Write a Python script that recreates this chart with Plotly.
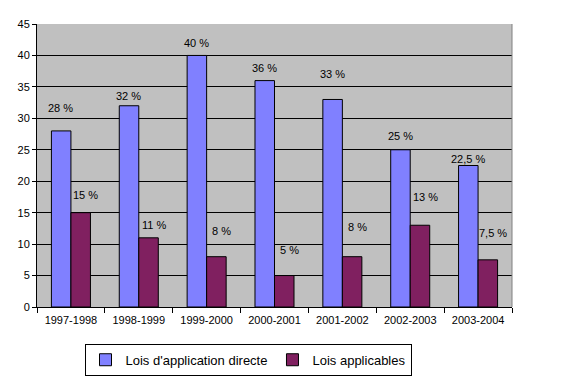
import plotly.graph_objects as go

categories = ["1997-1998", "1998-1999", "1999-2000", "2000-2001", "2001-2002", "2002-2003", "2003-2004"]
directe = [28, 32, 40, 36, 33, 25, 22.5]
applicables = [15, 11, 8, 5, 8, 13, 7.5]
directe_labels = ["28 %", "32 %", "40 %", "36 %", "33 %", "25 %", "22,5 %"]
applicables_labels = ["15 %", "11 %", "8 %", "5 %", "8 %", "13 %", "7,5 %"]
# label heights (data units) as placed in the original chart
directe_label_y = [31.6, 33.6, 42.0, 38.0, 37.0, 27.2, 23.5]
applicables_label_y = [17.8, 13.0, 12.1, 9.1, 12.8, 17.5, 11.7]

FONT = "Liberation Sans, Arial, sans-serif"

fig = go.Figure()
fig.add_trace(go.Bar(
    x=categories, y=directe, name="Lois d'application directe",
    marker=dict(color="#8080FF", line=dict(color="black", width=1)),
))
fig.add_trace(go.Bar(
    x=categories, y=applicables, name="Lois applicables",
    marker=dict(color="#802060", line=dict(color="black", width=1)),
))

annotations = []
for c, t, y in zip(categories, directe_labels, directe_label_y):
    annotations.append(dict(x=c, y=y, text=t, showarrow=False, xshift=-10,
                            font=dict(family=FONT, size=11, color="black")))
for c, t, y in zip(categories, applicables_labels, applicables_label_y):
    annotations.append(dict(x=c, y=y, text=t, showarrow=False, xshift=15,
                            font=dict(family=FONT, size=11, color="black")))

# page body has an 8px default margin, so the figure is drawn 8px smaller
fig.update_layout(
    width=556, height=368,
    margin=dict(l=29, r=52, t=16, b=69, autoexpand=False),
    paper_bgcolor="white", plot_bgcolor="#C0C0C0",
    barmode="group", bargap=0.425, bargroupgap=0,
    font=dict(family=FONT, size=11, color="black"),
    showlegend=True,
    legend=dict(orientation="h", x=0.1, xanchor="left", y=-0.13, yanchor="top",
                bordercolor="black", borderwidth=1, font=dict(size=13, family=FONT),
                itemwidth=30, tracegroupgap=0),
    annotations=annotations,
    shapes=[dict(type="line", xref="paper", yref="paper", x0=1, x1=1, y0=0, y1=1,
                 line=dict(color="#808080", width=1))],
)
fig.update_xaxes(showline=True, linecolor="black", linewidth=1, ticks="outside",
                 tickson="boundaries", ticklen=5, tickcolor="black", showgrid=False,
                 tickfont=dict(size=11), ticklabelstandoff=3)
fig.update_yaxes(range=[0, 45], dtick=5, showline=True, linecolor="black", linewidth=1,
                 ticks="outside", ticklen=4, tickcolor="black", gridcolor="black",
                 gridwidth=1, zeroline=False, tickfont=dict(size=11))

fig.write_html("out.html")
